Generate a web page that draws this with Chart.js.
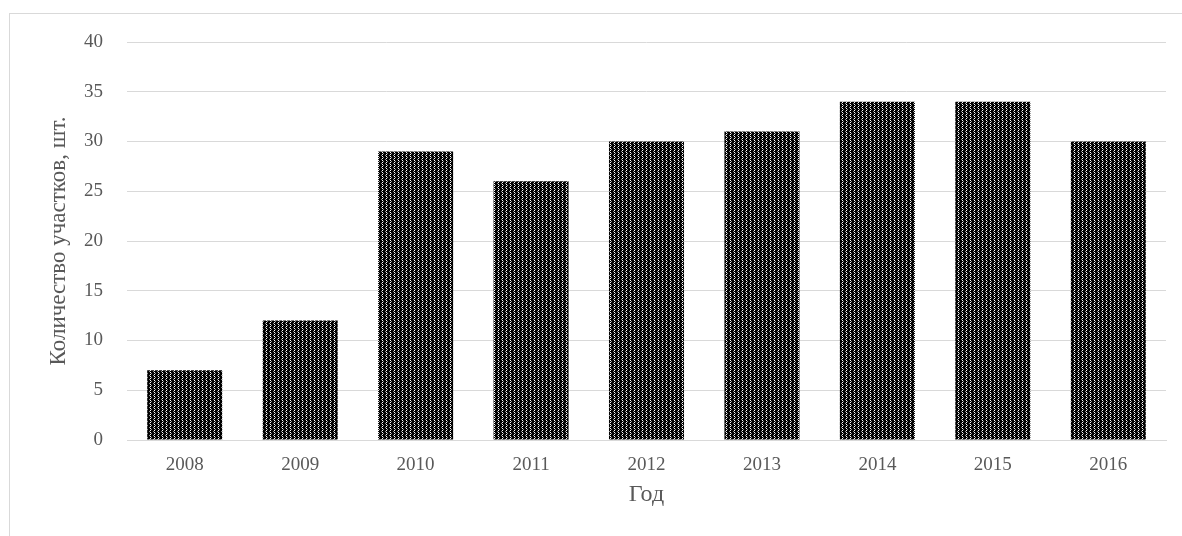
<!DOCTYPE html>
<html>
<head>
<meta charset="utf-8">
<script src="https://cdn.jsdelivr.net/npm/chart.js@4/dist/chart.umd.min.js"></script>
<style>
  html, body { margin: 0; padding: 0; background: #fff; }
  #wrap { position: relative; width: 1182px; height: 536px; overflow: hidden; }
  #frame { position: absolute; left: 9px; top: 13px; width: 1200px; height: 600px; border: 1.5px solid #d9d9d9; box-sizing: border-box; }
  #chart1 { position: absolute; left: 0; top: 0; }
</style>
</head>
<body>
<div id="wrap">
  <div id="frame"></div>
  <canvas id="chart1" width="1182" height="536"></canvas>
</div>
<script>
// data
const years = ['2008','2009','2010','2011','2012','2013','2014','2015','2016'];
const plots = [7, 12, 29, 26, 30, 31, 34, 34, 30];

// dotted black fill like the Excel pattern
function makePattern() {
  const c = document.createElement('canvas');
  c.width = 4; c.height = 4;
  const g = c.getContext('2d');
  g.fillStyle = '#000';
  g.fillRect(0, 0, 4, 4);
  g.fillStyle = '#fff';
  g.fillRect(2, 0, 1, 1);
  g.fillRect(2, 2, 1, 1);
  g.fillStyle = '#888';
  g.fillRect(3, 1, 1, 1);
  g.fillRect(1, 3, 1, 1);
  return g.createPattern(c, 'repeat');
}

const serif = "'Liberation Serif', 'Times New Roman', serif";

new Chart(document.getElementById('chart1'), {
  type: 'bar',
  data: {
    labels: years,
    datasets: [{
      data: plots,
      backgroundColor: makePattern(),
      borderWidth: 0,
      barPercentage: 0.65,
      categoryPercentage: 1
    }]
  },
  options: {
    responsive: false,
    animation: false,
    layout: { padding: { left: 44, right: 16, top: 42, bottom: 27 } },
    plugins: { legend: { display: false }, tooltip: { enabled: false } },
    scales: {
      x: {
        afterFit: (axis) => { axis.height = 69; },
        grid: { display: false, drawTicks: false },
        border: { display: true, color: '#d9d9d9', width: 1 },
        ticks: { color: '#595959', font: { family: serif, size: 19 }, padding: 14 },
        title: { display: true, text: 'Год', color: '#595959', font: { family: serif, size: 24 }, padding: { top: 2, bottom: 0 } }
      },
      y: {
        afterFit: (axis) => { axis.width = 83; },
        min: 0, max: 40,
        grid: { color: '#d9d9d9', lineWidth: 1, drawTicks: false },
        border: { display: false },
        ticks: { stepSize: 5, color: '#595959', font: { family: serif, size: 19 }, padding: 24 },
        title: { display: true, text: 'Количество участков, шт.', color: '#595959', font: { family: serif, size: 23 }, padding: { top: 1, bottom: 4 } }
      }
    }
  }
});
</script>
</body>
</html>
